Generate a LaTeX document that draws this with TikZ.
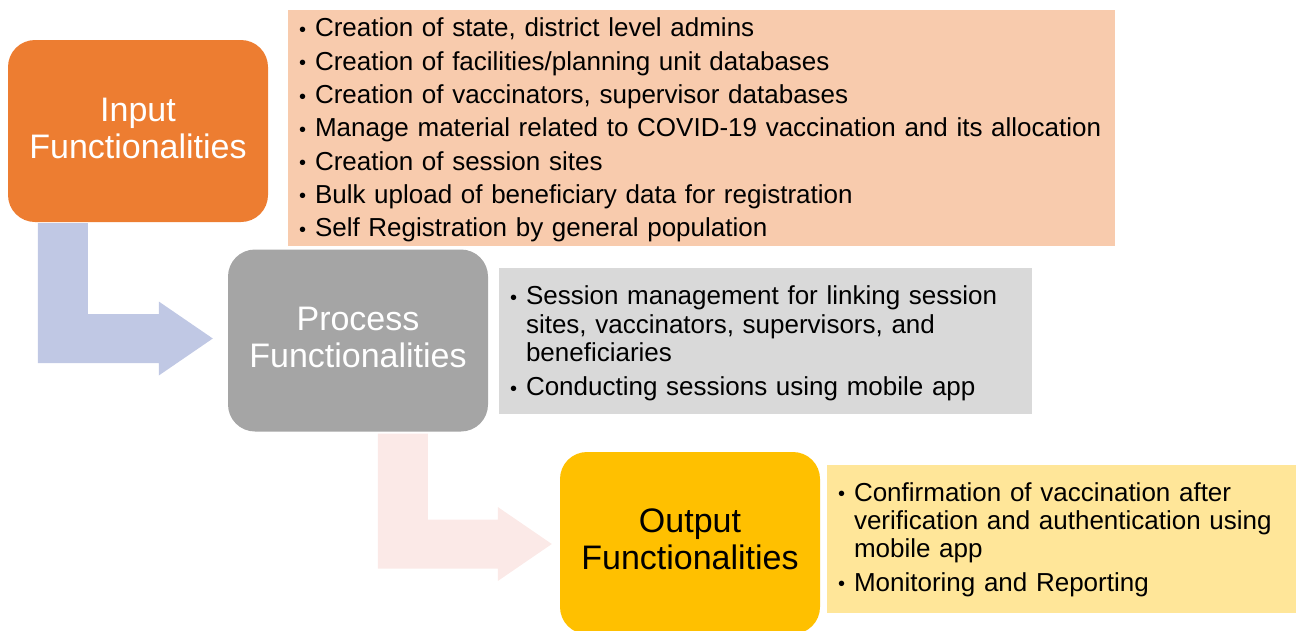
\documentclass[tikz,border=0pt]{standalone}
\usepackage{fontspec}
\setmainfont{Liberation Sans}
\usepackage{tikz}
\usetikzlibrary{calc}

\definecolor{inorange}{HTML}{ED7D31}
\definecolor{inlight}{HTML}{F8CBAD}
\definecolor{procgray}{HTML}{A5A5A5}
\definecolor{proclight}{HTML}{D9D9D9}
\definecolor{outyellow}{HTML}{FFC000}
\definecolor{outlight}{HTML}{FFE699}
\definecolor{arrblue}{HTML}{C0C8E4}
\definecolor{arrpink}{HTML}{FBE9E7}

\newcommand{\bul}{\makebox[16pt][l]{\raisebox{0.5pt}{\fontsize{20}{20}\selectfont\textbullet}}}
\newcommand{\ind}{\hspace*{16pt}}
\newcommand{\topgap}[1]{\rule{0pt}{#1pt}}
\newcommand{\bentarrow}[3]{%
  \fill[#3] (#1) -- ++(50,0) |- ($(#2)+(-54,-24.5)$) -- ++(0,-12.5) -- (#2)
    -- ++(-54,37) -- ++(0,-12.5) -| (#1) -- cycle;}

\tikzset{
  funcbox/.style={rounded corners=27pt, minimum width=260pt, minimum height=182pt,
    align=center, inner sep=0pt, font=\fontsize{34}{37}\selectfont},
  listbox/.style={inner xsep=11pt, inner ysep=0pt, align=left,
    font=\fontsize{26}{28.3}\selectfont}
}

\begin{document}
\begin{tikzpicture}[x=1pt,y=-1pt]
  \useasboundingbox (0,0) rectangle (1296,630);
  \clip (0,0) rectangle (1296,630);

  \node[funcbox, fill=inorange, text=white] (input) at (138,131)
    {Input\\Functionalities\rule[-6pt]{0pt}{0pt}};
  \node[funcbox, fill=procgray, text=white] (process) at (358,340.5)
    {Process\\Functionalities\rule[-6pt]{0pt}{0pt}};
  \node[funcbox, fill=outyellow, text=black] (output) at (690,543)
    {Output\\Functionalities\rule[-8pt]{0pt}{0pt}};

  \node[listbox, fill=inlight, minimum width=827pt, minimum height=236pt, text width=805pt]
    (inputlist) at (701.5,128) {%
    \topgap{23}\bul Creation of state, district level admins\\[5pt]
    \bul Creation of facilities/planning unit databases\\[5pt]
    \bul Creation of vaccinators, supervisor databases\\[5pt]
    \bul Manage material related to COVID-19 vaccination and its allocation\\[5pt]
    \bul Creation of session sites\\[5pt]
    \bul Bulk upload of beneficiary data for registration\\[5pt]
    \bul Self Registration by general population};

  \node[listbox, fill=proclight, minimum width=533pt, minimum height=146pt, text width=511pt]
    (processlist) at (765.5,341) {%
    \topgap{24}\bul Session management for linking session\\
    \ind sites, vaccinators, supervisors, and\\
    \ind beneficiaries\\[6pt]
    \bul Conducting sessions using mobile app};

  \node[listbox, fill=outlight, minimum width=469pt, minimum height=148pt, text width=447pt]
    (outputlist) at (1061.5,539) {%
    \topgap{20}\bul Confirmation of vaccination after\\
    \ind verification and authentication using\\
    \ind mobile app\\[5pt]
    \bul Monitoring and Reporting};

  \bentarrow{$(input.south west)+(30,1)$}{$(process.west)+(-15,-2)$}{arrblue}
  \bentarrow{$(process.south west)+(150,2)$}{$(output.west)+(-8,1)$}{arrpink}
\end{tikzpicture}
\end{document}
